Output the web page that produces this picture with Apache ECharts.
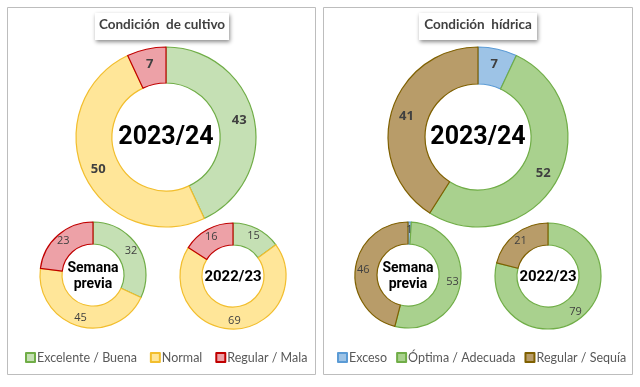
<!DOCTYPE html>
<html><head><meta charset="utf-8">
<script src="https://cdn.jsdelivr.net/npm/echarts@6/dist/echarts.min.js"></script>
<style>html,body{margin:0;padding:0;background:#fff}#c{width:640px;height:387px}</style>
</head><body><div id="c"></div>
<script>
// ---- data ----
const cultivoNames = ['Excelente / Buena', 'Normal', 'Regular / Mala'];
const hidricaNames = ['Exceso', 'Óptima / Adecuada', 'Regular / Sequía'];
const cultivo2324 = [43, 50, 7];
const cultivoPrev = [32, 45, 23];
const cultivo2223 = [15, 69, 16];
const hidrica2324 = [7, 52, 41];
const hidricaPrev = [1, 53, 46];
const hidrica2223 = [0, 79, 21];
const centerLabels = ['2023/24', 'Semana\nprevia', '2022/23'];
const panelTitles = ['Condición  de cultivo', 'Condición  hídrica'];

// ---- styles ----
const cultivoFill = ['#C5E0B4', '#FFE699', '#EDA1A7'];
const cultivoLine = ['#70AD47', '#F2BE2E', '#C00000'];
const hidricaFill = ['#9DC3E6', '#A9D18E', '#B89C69'];
const hidricaLine = ['#5B9BD5', '#70AD47', '#7F6000'];

function mk(names, vals, fills, lines) {
  return names.map((n, i) => ({
    name: n, value: vals[i],
    itemStyle: { color: fills[i], borderColor: lines[i], borderWidth: 1.2 }
  }));
}

const layouts = [
  { names: cultivoNames, vals: cultivo2324, f: cultivoFill, l: cultivoLine, c: [166, 137], r: [54, 90], big: true, lab: 0 },
  { names: cultivoNames, vals: cultivoPrev, f: cultivoFill, l: cultivoLine, c: [93, 275], r: [31, 53], big: false, lab: 1 },
  { names: cultivoNames, vals: cultivo2223, f: cultivoFill, l: cultivoLine, c: [233, 276], r: [31, 53], big: false, lab: 2 },
  { names: hidricaNames, vals: hidrica2324, f: hidricaFill, l: hidricaLine, c: [478, 137], r: [53, 90], big: true, lab: 0 },
  { names: hidricaNames, vals: hidricaPrev, f: hidricaFill, l: hidricaLine, c: [408, 275], r: [31, 53], big: false, lab: 1 },
  { names: hidricaNames, vals: hidrica2223, f: hidricaFill, l: hidricaLine, c: [548, 276], r: [31, 53], big: false, lab: 2 }
];

const series = layouts.map(L => ({
  type: 'pie', center: L.c, radius: L.r, startAngle: 90, clockwise: true,
  silent: true, avoidLabelOverlap: false, minShowLabelAngle: 0,
  data: mk(L.names, L.vals, L.f, L.l),
  label: {
    show: true, position: 'inside',
    formatter: p => (p.value === 0 ? '' : String(p.value)),
    color: '#404040', fontFamily: 'Open Sans, sans-serif',
    fontSize: L.big ? 13 : 11, fontWeight: L.big ? 'bold' : 'normal'
  },
  labelLine: { show: false },
  emphasis: { disabled: true }
}));

const graphic = [
  { type: 'rect', shape: { x: 7.5, y: 7.5, width: 308, height: 367 }, style: { fill: '#fff', stroke: '#BDBDBD', lineWidth: 1 }, z: -10 },
  { type: 'rect', shape: { x: 323.5, y: 7.5, width: 309, height: 367 }, style: { fill: '#fff', stroke: '#BDBDBD', lineWidth: 1 }, z: -10 },
  { type: 'rect', shape: { x: 95, y: 13, width: 134, height: 27 }, style: { fill: '#fff', shadowBlur: 4, shadowOffsetX: 1, shadowOffsetY: 2, shadowColor: 'rgba(0,0,0,0.45)' }, z: -5 },
  { type: 'rect', shape: { x: 419, y: 13, width: 118, height: 27 }, style: { fill: '#fff', shadowBlur: 4, shadowOffsetX: 1, shadowOffsetY: 2, shadowColor: 'rgba(0,0,0,0.45)' }, z: -5 },
  { type: 'text', x: 162, y: 25, style: { text: panelTitles[0], align: 'center', verticalAlign: 'middle', fill: '#404040', font: 'bold 13.5px Lato, sans-serif' }, z: 50 },
  { type: 'text', x: 478, y: 25, style: { text: panelTitles[1], align: 'center', verticalAlign: 'middle', fill: '#404040', font: 'bold 13.5px Lato, sans-serif' }, z: 50 }
];
layouts.forEach(L => {
  const big = L.big, two = L.lab === 1;
  graphic.push({
    type: 'text', x: L.c[0], y: L.c[1] + 1,
    style: {
      text: centerLabels[L.lab], align: 'center', verticalAlign: 'middle',
      fill: '#000', lineHeight: two ? 16 : undefined,
      font: 'bold ' + (big ? 25 : (two ? 14 : 15)) + 'px Roboto, sans-serif'
    }, z: 60
  });
});

const legendCommon = {
  orient: 'horizontal', top: 346, icon: 'rect', itemWidth: 9, itemHeight: 9, width: 320,
  textStyle: { color: '#595959', fontSize: 12.5, fontFamily: 'Lato, sans-serif', padding: [0, 0, 0, -3] },
  selectedMode: false
};

const chart = echarts.init(document.getElementById('c'), null, { renderer: 'canvas' });
chart.setOption({
  animation: false,
  backgroundColor: '#fff',
  legend: [
    Object.assign({}, legendCommon, { left: 20, itemGap: 13, data: cultivoNames }),
    Object.assign({}, legendCommon, { left: 332, itemGap: 9, data: hidricaNames })
  ],
  graphic: graphic,
  series: series
});
</script></body></html>
